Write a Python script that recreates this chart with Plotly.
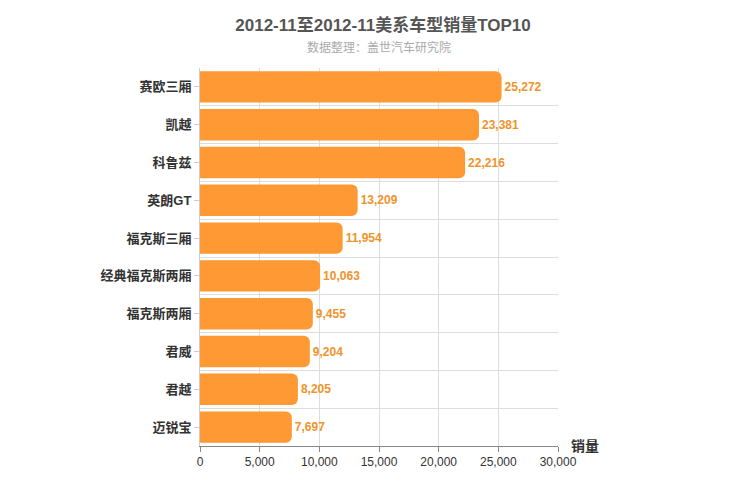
import plotly.graph_objects as go

models = ["赛欧三厢", "凯越", "科鲁兹", "英朗GT", "福克斯三厢", "经典福克斯两厢",
          "福克斯两厢", "君威", "君越", "迈锐宝"]
sales = [25272, 23381, 22216, 13209, 11954, 10063, 9455, 9204, 8205, 7697]

pos = list(range(len(models)))
font = "Liberation Sans, Noto Sans CJK SC"

fig = go.Figure(go.Bar(
    x=sales, y=pos, orientation="h",
    marker=dict(color="#FF9933", cornerradius=6, line=dict(width=0)),
    text=[f"<b>{v:,}</b>" for v in sales], textposition="outside",
    textfont=dict(color="#F0932B", size=12, family=font),
    cliponaxis=False,
))

fig.update_layout(
    width=750, height=500,
    margin=dict(l=192, r=200, t=60, b=62),
    paper_bgcolor="white", plot_bgcolor="white",
    font=dict(family=font, color="#333"),
    bargap=0.17,
    showlegend=False,
    title=dict(text="<b>2012-11至2012-11美系车型销量TOP10</b>", x=0.5, y=0.966,
               xanchor="center", yanchor="middle", font=dict(size=17, color="#555")),
    annotations=[
        dict(text="数据整理：盖世汽车研究院", x=0.5, y=1.053, xref="paper", yref="paper",
             xanchor="center", yanchor="middle", showarrow=False,
             font=dict(size=12, color="#aaa")),
        dict(text="<b>销量</b>", x=1.03, y=0, xref="paper", yref="paper",
             xanchor="left", yanchor="middle", showarrow=False,
             font=dict(size=14, color="#333")),
    ],
    xaxis=dict(range=[0, 30000], dtick=5000, tickformat=",", showgrid=True,
               gridcolor="#ddd", zeroline=False, showline=True, linecolor="#888",
               ticks="outside", ticklen=5, tickcolor="#888",
               tickfont=dict(size=12, color="#333")),
    yaxis=dict(tickvals=pos, ticktext=[f"<b>{m}</b>" for m in models],
               range=[len(models) - 0.5, -0.5], showgrid=False, zeroline=False,
               showline=True, linecolor="#ccc", ticks="outside", ticklen=5,
               tickcolor="#ccc", tickfont=dict(size=13, color="#333"),
               minor=dict(tickvals=[p + 0.5 for p in pos[:-1]], showgrid=True,
                          gridcolor="#ddd")),
)

fig.write_html("out.html")
